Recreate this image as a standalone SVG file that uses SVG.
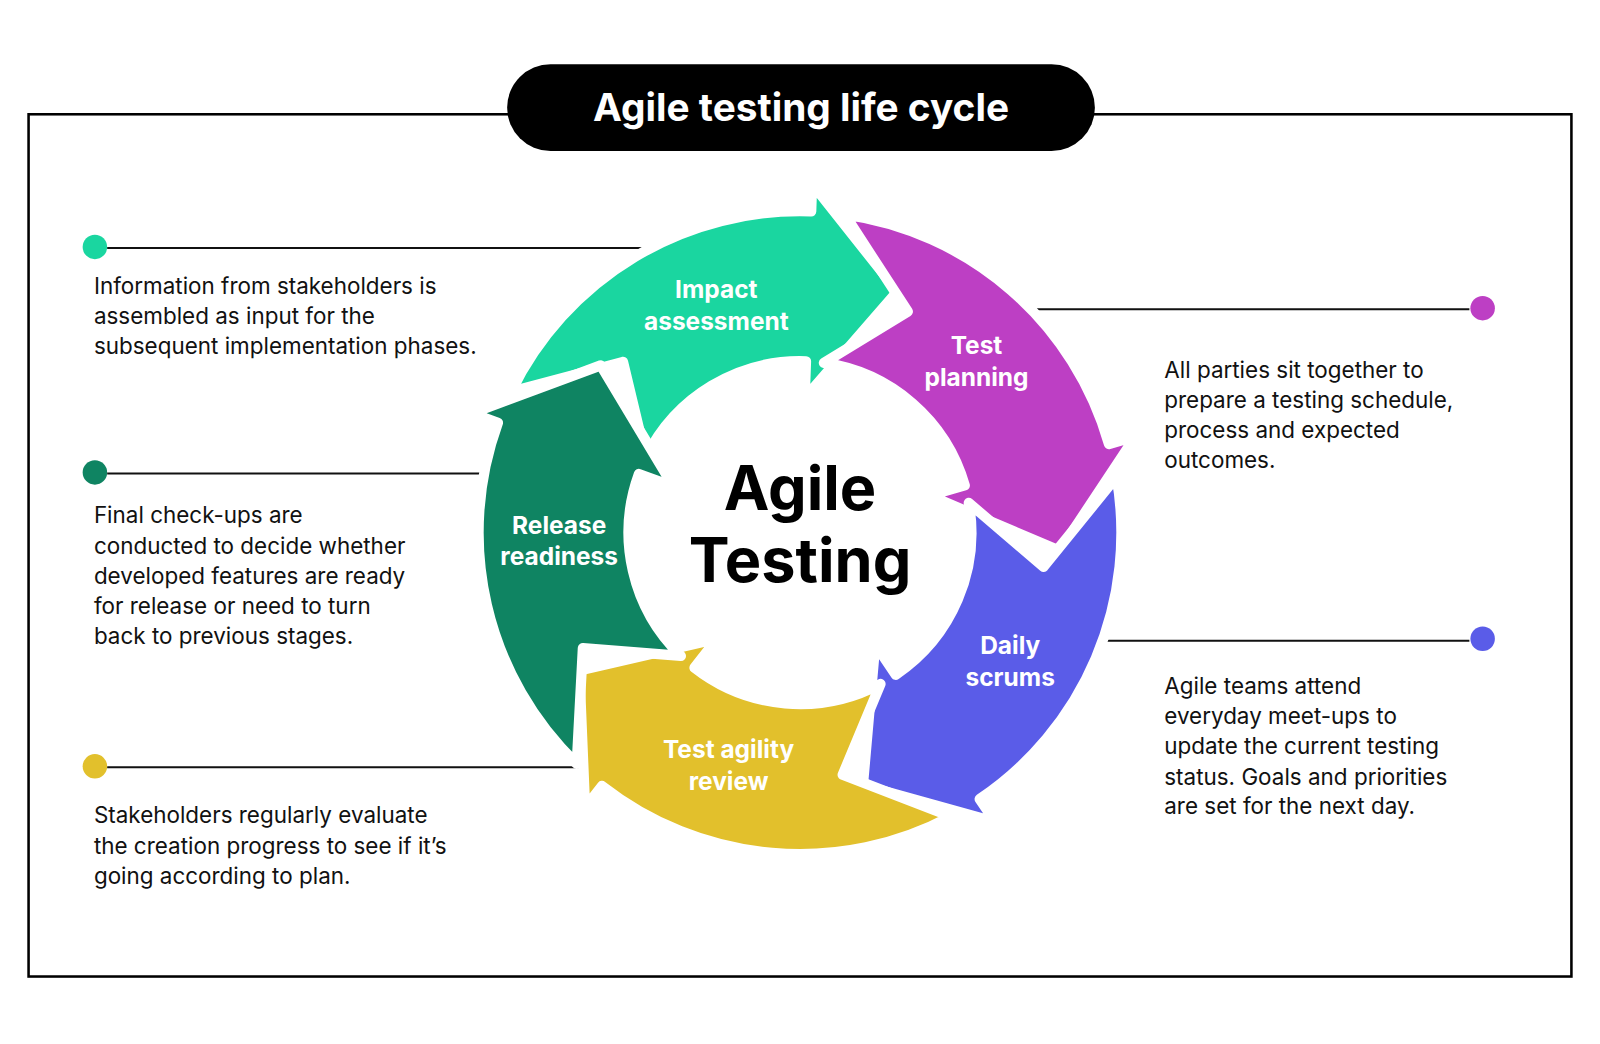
<svg xmlns="http://www.w3.org/2000/svg" width="1600" height="1044" viewBox="0 0 1600 1044">
<style>
.ar{stroke:#fff;stroke-width:10;stroke-linejoin:round}
.lb{font-family:Inter,"Liberation Sans",sans-serif;font-weight:700;font-size:24px;fill:#fff;text-anchor:middle}
.tx{font-family:Inter,"Liberation Sans",sans-serif;font-size:22px;fill:#111}
.ln{stroke:#111;stroke-width:2}
</style>
<rect width="1600" height="1044" fill="#fff"/>
<g transform="scale(1.0204)">
<rect x="28" y="112" width="1512" height="845" fill="none" stroke="#000" stroke-width="2.5"/>
<g id="title"><rect x="497" y="63" width="576" height="85" rx="42.5" fill="#000"/>
<text x="785" y="119" text-anchor="middle" font-family="Inter,'Liberation Sans',sans-serif" font-weight="700" font-size="38" fill="#fff">Agile testing life cycle</text></g>
<g id="connectors">
<line class="ln" x1="105" y1="243" x2="640" y2="243"/>
<line class="ln" x1="105" y1="464" x2="475" y2="464"/>
<line class="ln" x1="105" y1="752" x2="575" y2="752"/>
<line class="ln" x1="1010" y1="303" x2="1440" y2="303"/>
<line class="ln" x1="1080" y1="628" x2="1440" y2="628"/>
</g>
<g id="impact"><path class="ar" fill="#1ad6a0" d="M500.9,383.9 A315,315 0 0 1 795.0,207.2 L795.9,180.2 L879.5,285.6 L788.6,390.1 L789.9,354.1 A168,168 0 0 0 633.0,448.3 L610.6,354.6 Z"/>
<text class="lb" x="702" y="292">Impact</text><text class="lb" x="702" y="323">assessment</text></g>
<g id="planning"><path class="ar" fill="#bd3fc4" d="M827.8,210.1 A315,315 0 0 1 1086.8,435.2 L1112.8,427.7 L1038.4,539.8 L910.9,485.6 L945.5,475.7 A168,168 0 0 0 807.4,355.6 L889.7,305.4 Z"/>
<text class="lb" x="957" y="347">Test</text><text class="lb" x="957" y="378">planning</text></g>
<g id="scrums"><path class="ar" fill="#5a5ce8" d="M1094.2,467.3 A315,315 0 0 1 960.1,783.1 L975.2,805.5 L845.7,769.4 L857.8,631.4 L877.9,661.3 A168,168 0 0 0 949.4,492.8 L1022.7,555.5 Z"/>
<text class="lb" x="990" y="641">Daily</text><text class="lb" x="990" y="672">scrums</text></g>
<g id="review"><path class="ar" fill="#e2c02c" d="M931.9,800.1 A315,315 0 0 1 590.0,770.2 L573.4,791.5 L567.8,657.1 L702.7,626.0 L680.6,654.4 A168,168 0 0 0 862.9,670.3 L825.8,759.3 Z"/>
<text class="lb" x="714" y="743">Test agility</text><text class="lb" x="714" y="774">review</text></g>
<g id="release"><path class="ar" fill="#0f8462" d="M565.2,748.6 A315,315 0 0 1 488.0,414.3 L462.6,405.0 L588.7,358.1 L660.0,476.9 L626.1,464.5 A168,168 0 0 0 667.3,642.8 L571.2,635.1 Z"/>
<text class="lb" x="548" y="523">Release</text><text class="lb" x="548" y="554">readiness</text></g>
<g id="center" font-family="Inter,'Liberation Sans',sans-serif" font-weight="700" font-size="60" fill="#000" text-anchor="middle">
<text x="784" y="500">Agile</text><text x="784" y="570">Testing</text></g>
<g id="n1"><circle cx="93" cy="242" r="12" fill="#1ad6a0"/>
<text class="tx" x="92" y="288">Information from stakeholders is</text><text class="tx" x="92" y="318">assembled as input for the</text><text class="tx" x="92" y="347">subsequent implementation phases.</text></g>
<g id="n2"><circle cx="93" cy="463" r="12" fill="#0f8462"/>
<text class="tx" x="92" y="513">Final check-ups are</text><text class="tx" x="92" y="543">conducted to decide whether</text><text class="tx" x="92" y="572">developed features are ready</text><text class="tx" x="92" y="602">for release or need to turn</text><text class="tx" x="92" y="631">back to previous stages.</text></g>
<g id="n3"><circle cx="93" cy="751" r="12" fill="#e2c02c"/>
<text class="tx" x="92" y="807">Stakeholders regularly evaluate</text><text class="tx" x="92" y="837">the creation progress to see if it’s</text><text class="tx" x="92" y="866">going according to plan.</text></g>
<g id="n4"><circle cx="1453" cy="302" r="12" fill="#bd3fc4"/>
<text class="tx" x="1141" y="370">All parties sit together to</text><text class="tx" x="1141" y="400">prepare a testing schedule,</text><text class="tx" x="1141" y="429">process and expected</text><text class="tx" x="1141" y="459">outcomes.</text></g>
<g id="n5"><circle cx="1453" cy="626" r="12" fill="#5a5ce8"/>
<text class="tx" x="1141" y="680">Agile teams attend</text><text class="tx" x="1141" y="710">everyday meet-ups to</text><text class="tx" x="1141" y="739">update the current testing</text><text class="tx" x="1141" y="769">status. Goals and priorities</text><text class="tx" x="1141" y="798">are set for the next day.</text></g>
</g>
</svg>
